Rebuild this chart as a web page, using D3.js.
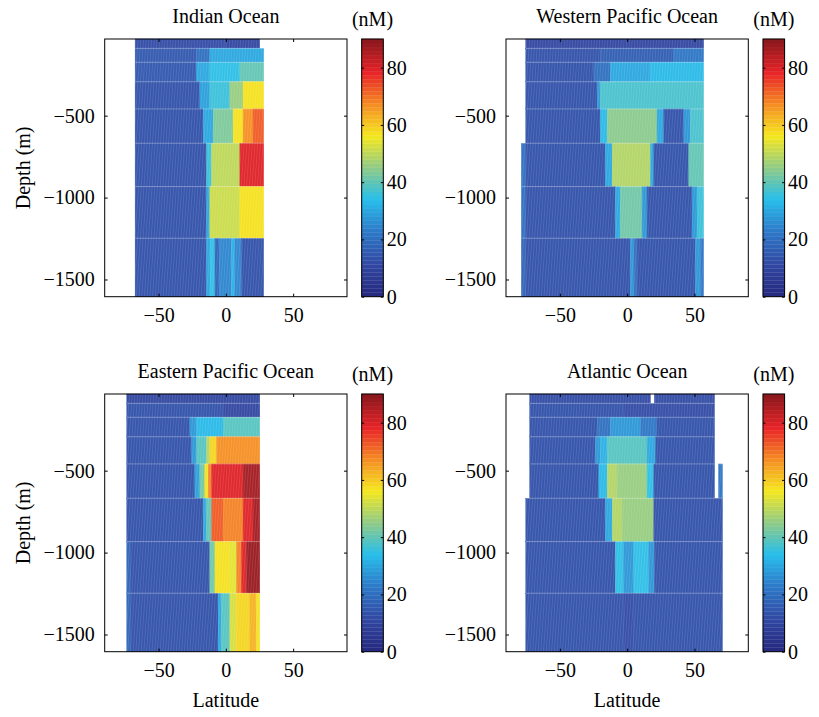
<!DOCTYPE html>
<html>
<head>
<meta charset="utf-8">
<script src="https://cdn.jsdelivr.net/npm/d3@7"></script>
<style>
  html, body { margin: 0; padding: 0; background: #fff; }
  svg text { font-family: "Liberation Serif", "Times New Roman", serif; fill: #000; }
</style>
</head>
<body>
<svg id="chart" width="819" height="717"></svg>
<script>
// ---------------- data ----------------
const oceanNames = ["Indian Ocean", "Western Pacific Ocean", "Eastern Pacific Ocean", "Atlantic Ocean"];
const depthEdges = [-32, -89, -174, -293, -459, -668, -933, -1248, -1605];
const latTicks = [-50, 0, 50];
const depthTicks = [-500, -1000, -1500];
const colorTicks = [0, 20, 40, 60, 80];
const colorUnit = "(nM)";
const xLabel = "Latitude";
const yLabel = "Depth (m)";

// each layer (top to bottom): [latStart, latEnd, concentration nM]
const indianLayers = [
  [[-67.4, 0, 12], [0, 25.2, 10]],
  [[-67.4, -21.7, 15], [-21.7, -11.9, 21], [-11.9, 28.1, 30]],
  [[-67.4, -21.7, 15], [-21.7, -11.9, 30], [-11.9, 10.4, 35], [10.4, 28.1, 40]],
  [[-67.4, -19.3, 14], [-19.3, -11.9, 29], [-11.9, 3, 36], [3, 12.8, 46], [12.8, 28.1, 57]],
  [[-67.4, -16.8, 13], [-16.8, -9.4, 30], [-9.4, 5.4, 43], [5.4, 12.8, 57], [12.8, 20.2, 67], [20.2, 28.1, 73]],
  [[-67.4, -14.3, 13], [-14.3, -10.6, 36], [-10.6, 10.4, 50], [10.4, 28.1, 79]],
  [[-67.4, -14.3, 13], [-14.3, -11.9, 30], [-11.9, 10.4, 52], [10.4, 28.1, 57]],
  [[-67.4, -14.3, 13], [-14.3, -11.4, 30], [-11.4, -8.1, 34], [-8.1, -5.0, 18], [-5.0, 4.2, 24], [4.2, 6.7, 31], [6.7, 11.6, 24], [11.6, 28.1, 13]]
];
const westPacificLayers = [
  [[-75.3, 56.8, 11]],
  [[-75.3, -19.8, 14], [-19.8, 34.6, 16], [34.6, 56.8, 22]],
  [[-75.3, -24.7, 14], [-24.7, -12.4, 20], [-12.4, 17.3, 30], [17.3, 56.8, 33]],
  [[-75.3, -22.2, 14], [-22.2, -19.8, 28], [-19.8, 56.8, 37]],
  [[-75.3, -19.8, 14], [-19.8, -14.8, 33], [-14.8, 22.2, 44], [22.2, 27.2, 30], [27.2, 42.1, 14], [42.1, 47.0, 28], [47.0, 56.8, 37]],
  [[-78.6, -75.3, 20], [-75.3, -16.1, 13], [-16.1, -11.1, 30], [-11.1, 17.3, 49], [17.3, 19.8, 30], [19.8, 45.8, 13], [45.8, 56.8, 40]],
  [[-78.6, -75.3, 20], [-75.3, -8.7, 13], [-8.7, -5.0, 30], [-5.0, 11.1, 41], [11.1, 14.8, 28], [14.8, 48.2, 13], [48.2, 51.9, 28], [51.9, 56.8, 36]],
  [[-78.6, -75.3, 17], [-75.3, 2.4, 13], [2.4, 4.9, 28], [4.9, 7.4, 20], [7.4, 50.7, 13], [50.7, 54.4, 28], [54.4, 56.8, 22]]
];
const eastPacificLayers = [
  [[-73.6, 25.2, 11]],
  [[-73.6, -2.0, 13], [-2.0, 25.2, 11]],
  [[-73.6, -26.7, 14], [-26.7, -21.7, 28], [-21.7, -2.0, 33], [-2.0, 25.2, 38]],
  [[-73.6, -25.4, 14], [-25.4, -21.7, 28], [-21.7, -14.3, 38], [-14.3, -11.9, 48], [-11.9, -6.9, 58], [-6.9, 25.2, 67]],
  [[-73.6, -23.0, 14], [-23.0, -19.3, 29], [-19.3, -15.6, 42], [-15.6, -13.1, 57], [-13.1, -10.6, 68], [-10.6, 12.8, 79], [12.8, 25.2, 86]],
  [[-73.6, -16.8, 13], [-16.8, -14.3, 30], [-14.3, -10.6, 40], [-10.6, -2.0, 73], [-2.0, 12.8, 68], [12.8, 20.2, 79], [20.2, 25.2, 87]],
  [[-73.6, -71.0, 17], [-71.0, -11.9, 13], [-11.9, -8.1, 42], [-8.1, 3.0, 57], [3.0, 7.9, 54], [7.9, 11.6, 68], [11.6, 15.3, 80], [15.3, 25.2, 88]],
  [[-73.6, -71.0, 17], [-71.0, -5.7, 13], [-5.7, -3.2, 30], [-3.2, 3.0, 38], [3.0, 7.9, 53], [7.9, 17.8, 58], [17.8, 22.7, 62], [22.7, 25.2, 57]]
];
const atlanticLayers = [
  [[-72.4, 17.3, 12], [20.2, 64.9, 12]],
  [[-72.4, -2.5, 14], [-2.5, 64.9, 12]],
  [[-72.4, -22.2, 14], [-22.2, -12.4, 20], [-12.4, 9.9, 28], [9.9, 22.2, 22], [22.2, 64.9, 14]],
  [[-72.4, -23.5, 14], [-23.5, -19.8, 28], [-19.8, -14.8, 32], [-14.8, 14.8, 38], [14.8, 21.0, 30], [21.0, 64.9, 14]],
  [[-72.4, -21.0, 14], [-21.0, -14.8, 33], [-14.8, -7.4, 49], [-7.4, 14.8, 45], [14.8, 19.8, 35], [19.8, 64.9, 14], [67.9, 70.8, 22]],
  [[-75.3, -16.1, 14], [-16.1, -11.1, 30], [-11.1, -3.7, 49], [-3.7, 19.8, 45], [19.8, 70.8, 14]],
  [[-75.3, -8.7, 14], [-8.7, -2.5, 35], [-2.5, 4.9, 28], [4.9, 16.0, 35], [16.0, 20.2, 28], [20.2, 70.8, 14]],
  [[-75.3, -2.5, 13], [-2.5, 4.9, 12], [4.9, 70.8, 13]]
];
const allLayers = [indianLayers, westPacificLayers, eastPacificLayers, atlanticLayers];

// ---------------- style / layout ----------------
const FONT = 20;
const boxes = [
  { x0: 104.7, x1: 347.0, y0: 39, y1: 296.7 },
  { x0: 506.0, x1: 748.3, y0: 39, y1: 296.7 },
  { x0: 104.7, x1: 347.0, y0: 394, y1: 651.7 },
  { x0: 506.0, x1: 748.3, y0: 394, y1: 651.7 }
];
const cbOffset = 257, cbWidth = 21.6;

// printed-jet colour map, 64 discrete levels
const jetStops = [
  [0.000, [38, 42, 128]],
  [0.125, [50, 74, 164]],
  [0.250, [45, 122, 200]],
  [0.375, [40, 190, 235]],
  [0.500, [145, 203, 135]],
  [0.625, [245, 232, 30]],
  [0.750, [245, 140, 35]],
  [0.875, [232, 35, 40]],
  [1.000, [140, 25, 30]]
];
const jetInterp = d3.scaleLinear()
  .domain(jetStops.map(s => s[0]))
  .range(jetStops.map(s => d3.rgb(...s[1])))
  .interpolate(d3.interpolateRgb);
const cmin = 0, cmax = 90, nLevels = 64;
function colorOf(v) {
  const idx = Math.max(0, Math.min(nLevels - 1, Math.floor((v - cmin) / (cmax - cmin) * nLevels)));
  return jetInterp(idx / (nLevels - 1));
}
const fmt = d => (d < 0 ? "\u2212" + Math.abs(d) : String(d));

const svg = d3.select("#chart");
const defs = svg.append("defs");
const pat = defs.append("pattern").attr("id", "tex")
  .attr("patternUnits", "userSpaceOnUse").attr("width", 2.7).attr("height", 20)
  .attr("patternTransform", "skewX(-4)");
pat.append("line").attr("x1", 0.5).attr("x2", 0.5).attr("y1", 0).attr("y2", 20)
  .attr("stroke", "#fff").attr("stroke-opacity", 0.2).attr("stroke-width", 0.7);
pat.append("line").attr("x1", 1.9).attr("x2", 1.9).attr("y1", 0).attr("y2", 20)
  .attr("stroke", "#fff").attr("stroke-opacity", 0.1).attr("stroke-width", 0.6);

allLayers.forEach((layers, p) => {
  const b = boxes[p];
  const x = d3.scaleLinear().domain([-90, 90]).range([b.x0, b.x1]);
  const y = d3.scaleLinear().domain([depthEdges[depthEdges.length - 1], depthEdges[0]]).range([b.y1, b.y0]);
  const g = svg.append("g");

  const cells = [];
  layers.forEach((layer, i) => layer.forEach(s => cells.push({ i, s })));

  const cg = g.append("g");
  cg.selectAll("rect.cell").data(cells).join("rect").attr("class", "cell")
    .attr("x", d => x(d.s[0])).attr("width", d => x(d.s[1]) - x(d.s[0]))
    .attr("y", d => y(depthEdges[d.i])).attr("height", d => y(depthEdges[d.i + 1]) - y(depthEdges[d.i]))
    .attr("fill", d => colorOf(d.s[2]))
    .attr("stroke", d => colorOf(d.s[2])).attr("stroke-width", 0.4);
  cg.selectAll("rect.tex").data(cells).join("rect").attr("class", "tex")
    .attr("x", d => x(d.s[0])).attr("width", d => x(d.s[1]) - x(d.s[0]))
    .attr("y", d => y(depthEdges[d.i])).attr("height", d => y(depthEdges[d.i + 1]) - y(depthEdges[d.i]))
    .attr("fill", "url(#tex)");
  // layer boundary lines
  cg.selectAll("line.edge").data(cells.filter(d => d.i > 0)).join("line").attr("class", "edge")
    .attr("x1", d => x(d.s[0])).attr("x2", d => x(d.s[1]))
    .attr("y1", d => y(depthEdges[d.i])).attr("y2", d => y(depthEdges[d.i]))
    .attr("stroke", "#fff").attr("stroke-opacity", 0.35).attr("stroke-width", 0.8);

  // axes (inward ticks, mirrored)
  const axB = g.append("g").attr("transform", `translate(0,${b.y1})`)
    .call(d3.axisBottom(x).tickValues(latTicks).tickFormat(fmt).tickSizeInner(-3).tickSizeOuter(0).tickPadding(11.4));
  const axT = g.append("g").attr("transform", `translate(0,${b.y0})`)
    .call(d3.axisTop(x).tickValues(latTicks).tickFormat("").tickSizeInner(-3).tickSizeOuter(0));
  const axL = g.append("g").attr("transform", `translate(${b.x0},0)`)
    .call(d3.axisLeft(y).tickValues(depthTicks).tickFormat(fmt).tickSizeInner(-3).tickSizeOuter(0).tickPadding(10));
  const axR = g.append("g").attr("transform", `translate(${b.x1},0)`)
    .call(d3.axisRight(y).tickValues(depthTicks).tickFormat("").tickSizeInner(-3).tickSizeOuter(0));
  [axB, axT, axL, axR].forEach(a => {
    a.select(".domain").remove();
    a.selectAll("line").attr("stroke", "#000").attr("stroke-width", 1);
    a.selectAll("text").attr("font-size", FONT).attr("font-family", "Liberation Serif");
  });

  g.append("rect").attr("x", b.x0).attr("y", b.y0).attr("width", b.x1 - b.x0).attr("height", b.y1 - b.y0)
    .attr("fill", "none").attr("stroke", "#000").attr("stroke-width", 1);

  // title
  g.append("text").attr("x", (b.x0 + b.x1) / 2).attr("y", b.y0 - 16.5)
    .attr("text-anchor", "middle").attr("font-size", FONT).text(oceanNames[p]);

  // axis labels
  if (p % 2 === 0) {
    g.append("text").attr("transform", `translate(${b.x0 - 75},${(b.y0 + b.y1) / 2}) rotate(-90)`)
      .attr("text-anchor", "middle").attr("font-size", FONT).text(yLabel);
  }
  if (p >= 2) {
    g.append("text").attr("x", (b.x0 + b.x1) / 2).attr("y", b.y1 + 55)
      .attr("text-anchor", "middle").attr("font-size", FONT).text(xLabel);
  }

  // colour bar
  const cx0 = b.x0 + cbOffset, cx1 = cx0 + cbWidth;
  const cy = d3.scaleLinear().domain([cmin, cmax]).range([b.y1, b.y0]);
  const levels = d3.range(nLevels);
  const step = (cmax - cmin) / nLevels;
  g.append("g").selectAll("rect").data(levels).join("rect")
    .attr("x", cx0).attr("width", cx1 - cx0)
    .attr("y", d => cy(cmin + (d + 1) * step)).attr("height", d => cy(cmin + d * step) - cy(cmin + (d + 1) * step))
    .attr("fill", d => jetInterp(d / (nLevels - 1)))
    .attr("stroke", d => jetInterp(d / (nLevels - 1))).attr("stroke-width", 0.3);
  const cbR = g.append("g").attr("transform", `translate(${cx1},0)`)
    .call(d3.axisRight(cy).tickValues(colorTicks).tickFormat(fmt).tickSizeInner(-2.5).tickSizeOuter(0).tickPadding(3.5));
  const cbL = g.append("g").attr("transform", `translate(${cx0},0)`)
    .call(d3.axisLeft(cy).tickValues(colorTicks).tickFormat("").tickSizeInner(-2.5).tickSizeOuter(0));
  [cbR, cbL].forEach(a => {
    a.select(".domain").remove();
    a.selectAll("line").attr("stroke", "#000").attr("stroke-width", 1);
    a.selectAll("text").attr("font-size", FONT).attr("font-family", "Liberation Serif");
  });
  g.append("rect").attr("x", cx0).attr("y", b.y0).attr("width", cx1 - cx0).attr("height", b.y1 - b.y0)
    .attr("fill", "none").attr("stroke", "#000").attr("stroke-width", 1);
  g.append("text").attr("x", (cx0 + cx1) / 2).attr("y", b.y0 - 13)
    .attr("text-anchor", "middle").attr("font-size", FONT).text(colorUnit);
});
</script>
</body>
</html>
